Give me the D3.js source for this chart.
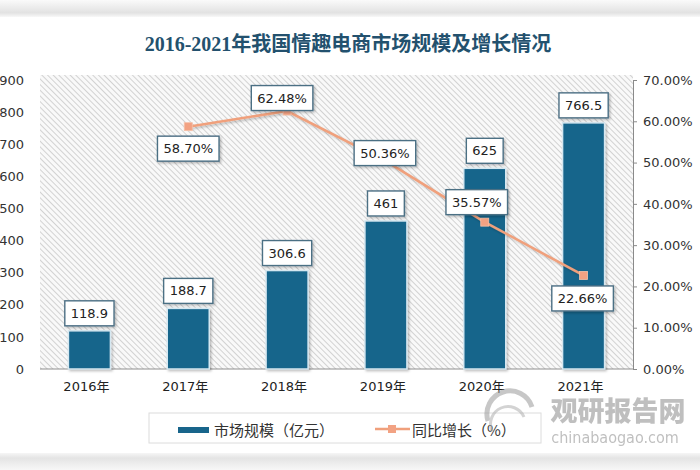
<!DOCTYPE html>
<html>
<head>
<meta charset="utf-8">
<script src="https://cdn.jsdelivr.net/npm/d3@7"></script>
<style>
  html, body { margin: 0; padding: 0; background: #fff; }
  svg { display: block; }
</style>
</head>
<body>
<svg id="chart" width="700" height="470"></svg>
<script>
const years = ["2016年", "2017年", "2018年", "2019年", "2020年", "2021年"];
const marketSize = [118.9, 188.7, 306.6, 461, 625, 766.5];
const growth = [null, 0.5870, 0.6248, 0.5036, 0.3557, 0.2266];
const growthLabels = [null, "58.70%", "62.48%", "50.36%", "35.57%", "22.66%"];
const leftTicks = [0, 100, 200, 300, 400, 500, 600, 700, 800, 900];
const rightTicks = [0, 0.1, 0.2, 0.3, 0.4, 0.5, 0.6, 0.7];
const titleText = "2016-2021年我国情趣电商市场规模及增长情况";
const legendBar = "市场规模（亿元）";
const legendLine = "同比增长（%）";

// label placement offsets (layout only)
const pctOffsets = [null, [0, 22], [-5, -13], [-1, -8], [-8, -20], [-1, 23]];

const svg = d3.select("#chart");
const defs = svg.append("defs");

// hatch pattern
const pat = defs.append("pattern").attr("id", "hatch")
  .attr("patternUnits", "userSpaceOnUse").attr("width", 4).attr("height", 4)
  .attr("patternTransform", "rotate(-45)");
pat.append("rect").attr("width", 4).attr("height", 4).attr("fill", "#f9f9f9");
pat.append("line").attr("x1", 0).attr("y1", 0).attr("x2", 0).attr("y2", 4)
  .attr("stroke", "#c9c9c9").attr("stroke-width", 1.6);

// band gradients
const g1 = defs.append("linearGradient").attr("id", "bandTop").attr("x1", 0).attr("y1", 0).attr("x2", 0).attr("y2", 1);
g1.append("stop").attr("offset", "0%").attr("stop-color", "#fafafa");
g1.append("stop").attr("offset", "75%").attr("stop-color", "#e2e2e2");
g1.append("stop").attr("offset", "100%").attr("stop-color", "#f8f8f8");
const g2 = defs.append("linearGradient").attr("id", "bandBot").attr("x1", 0).attr("y1", 0).attr("x2", 0).attr("y2", 1);
g2.append("stop").attr("offset", "0%").attr("stop-color", "#f6f6f6");
g2.append("stop").attr("offset", "30%").attr("stop-color", "#e4e4e4");
g2.append("stop").attr("offset", "100%").attr("stop-color", "#f7f7f7");

const shadow = defs.append("filter").attr("id", "shadow").attr("x", "-20%").attr("y", "-20%").attr("width", "140%").attr("height", "140%");
shadow.append("feDropShadow").attr("dx", 1.5).attr("dy", 1.5).attr("stdDeviation", 1.2).attr("flood-color", "#000").attr("flood-opacity", 0.25);

svg.append("rect").attr("x", 0).attr("y", 0).attr("width", 700).attr("height", 17).attr("fill", "url(#bandTop)");
svg.append("rect").attr("x", 0).attr("y", 453).attr("width", 700).attr("height", 17).attr("fill", "url(#bandBot)");

const plot = { left: 40, right: 633, top: 75, bottom: 369 };

const x = d3.scaleBand().domain(years).range([plot.left, plot.right]).paddingInner(0.575).paddingOuter(0.2875);
const yL = d3.scaleLinear().domain([0, 900]).range([369, 80]);
const yR = d3.scaleLinear().domain([0, 0.7]).range([369, 80]);

// plot background
svg.append("rect").attr("x", plot.left).attr("y", plot.top)
  .attr("width", plot.right - plot.left).attr("height", plot.bottom - plot.top)
  .attr("fill", "url(#hatch)");

// title
svg.append("text").attr("x", 348).attr("y", 51).attr("text-anchor", "middle")
  .attr("font-family", "'Liberation Serif', 'Noto Sans CJK SC', serif")
  .attr("font-weight", "bold").attr("font-size", 20).attr("fill", "#23516e")
  .text(titleText);

// left axis
const axL = svg.append("g").attr("transform", `translate(${plot.left},0)`)
  .call(d3.axisLeft(yL).tickValues(leftTicks).tickSize(0).tickPadding(16).tickFormat(d3.format("d")));
axL.select(".domain").remove();
axL.selectAll("text").attr("font-family", "'DejaVu Sans', Verdana, sans-serif").attr("font-size", 13).attr("fill", "#333");

// right axis
const axR = svg.append("g").attr("transform", `translate(${plot.right},0)`)
  .call(d3.axisRight(yR).tickValues(rightTicks).tickSize(4).tickPadding(6).tickFormat(d3.format(".2%")));
axR.select(".domain").attr("stroke", "#8a8a8a");
axR.selectAll(".tick line").attr("stroke", "#8a8a8a");
axR.selectAll("text").attr("font-family", "'DejaVu Sans', Verdana, sans-serif").attr("font-size", 13).attr("fill", "#333");

// bottom axis
const axB = svg.append("g").attr("transform", `translate(0,${plot.bottom})`)
  .call(d3.axisBottom(x).tickSize(0).tickPadding(13));
axB.select(".domain").attr("stroke", "#8f8f8f").attr("d", `M${plot.left},0H${plot.right}`);
axB.selectAll("text").attr("font-family", "'DejaVu Sans', 'Noto Sans CJK SC', sans-serif").attr("font-size", 13).attr("fill", "#222")
  .attr("dx", -3);

// bars
svg.append("g").selectAll("rect").data(marketSize).join("rect")
  .attr("x", (d, i) => x(years[i]))
  .attr("y", d => yL(d))
  .attr("width", x.bandwidth())
  .attr("height", d => yL(0) - yL(d))
  .attr("fill", "#18658b")
  .attr("stroke", "#d6e8f1").attr("stroke-width", 1.5)
  .attr("filter", "url(#shadow)");

function labelBox(g, cx, cy, txt) {
  const t = g.append("text").attr("x", cx).attr("y", cy).attr("text-anchor", "middle")
    .attr("dominant-baseline", "central")
    .attr("font-family", "'DejaVu Sans', Verdana, sans-serif").attr("font-size", 13).attr("fill", "#222")
    .text(txt);
  const w = t.node().getComputedTextLength() + 12;
  const h = 25;
  g.insert("rect", "text:last-child")
    .attr("x", cx - w / 2).attr("y", cy - h / 2).attr("width", w).attr("height", h)
    .attr("fill", "#fff").attr("stroke", "#4c6f84").attr("stroke-width", 1.4)
    .attr("filter", "url(#shadow)");
}

// line
const linePts = growth.map((v, i) => v == null ? null : [x(years[i]) + x.bandwidth() / 2, yR(v)]).filter(p => p);
const lineGen = d3.line();
svg.append("path").attr("d", lineGen(linePts)).attr("fill", "none")
  .attr("stroke", "#f0a07c").attr("stroke-width", 2.5).attr("filter", "url(#shadow)");
svg.append("g").selectAll("rect").data(linePts).join("rect")
  .attr("x", d => d[0] - 4).attr("y", d => d[1] - 4).attr("width", 8).attr("height", 8)
  .attr("fill", "#f2a283").attr("stroke", "#f6c2aa").attr("stroke-width", 0.8);

// bar labels
const barLabels = svg.append("g");
marketSize.forEach((v, i) => {
  const g = barLabels.append("g");
  labelBox(g, x(years[i]) + x.bandwidth() / 2, yL(v) - 17.5, String(v));
});

// percent labels
const pctLabels = svg.append("g");
growth.forEach((v, i) => {
  if (v == null) return;
  const g = pctLabels.append("g");
  const cx = x(years[i]) + x.bandwidth() / 2 + pctOffsets[i][0];
  const cy = yR(v) + pctOffsets[i][1];
  labelBox(g, cx, cy, growthLabels[i]);
});

// legend
const lg = svg.append("g");
lg.append("rect").attr("x", 149).attr("y", 413).attr("width", 392).attr("height", 30)
  .attr("fill", "#fff").attr("stroke", "#dcdcdc").attr("stroke-width", 1);
lg.append("rect").attr("x", 178).attr("y", 427).attr("width", 31).attr("height", 6).attr("fill", "#18658b");
lg.append("text").attr("x", 214).attr("y", 429).attr("dominant-baseline", "central")
  .attr("font-family", "'Noto Sans CJK SC', sans-serif").attr("font-size", 15).attr("fill", "#333").text(legendBar);
lg.append("line").attr("x1", 375).attr("x2", 410).attr("y1", 429).attr("y2", 429).attr("stroke", "#f0a07c").attr("stroke-width", 2.5);
lg.append("rect").attr("x", 388).attr("y", 425).attr("width", 8).attr("height", 8).attr("fill", "#f2a283");
lg.append("text").attr("x", 412).attr("y", 429).attr("dominant-baseline", "central")
  .attr("font-family", "'Noto Sans CJK SC', sans-serif").attr("font-size", 15).attr("fill", "#333").text(legendLine);

// watermark
const wm = svg.append("g").attr("opacity", 0.55);
wm.append("path").attr("d", "M488,421 A22,22 0 0 1 532,407").attr("fill", "none").attr("stroke", "#9a9a9a").attr("stroke-width", 5);
wm.append("path").attr("d", "M492,431 A16,16 0 0 1 524,417").attr("fill", "none").attr("stroke", "#b0b0b0").attr("stroke-width", 3);
wm.append("text").attr("x", 618).attr("y", 421).attr("text-anchor", "middle")
  .attr("font-family", "'Noto Sans CJK SC', sans-serif").attr("font-weight", "900").attr("font-size", 27)
  .attr("fill", "#8c8c8c").text("观研报告网");
wm.append("text").attr("x", 615).attr("y", 443).attr("text-anchor", "middle")
  .attr("font-family", "'DejaVu Sans Condensed', 'DejaVu Sans', sans-serif").attr("font-size", 16)
  .attr("fill", "#8c8c8c").text("chinabaogao.com");
</script>
</body>
</html>
